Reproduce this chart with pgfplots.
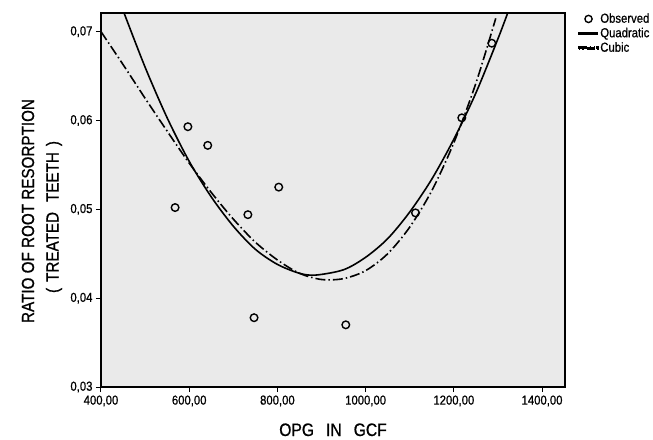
\documentclass[border=0pt]{standalone}
\usepackage{pgfplots}
\pgfplotsset{compat=1.18}
\usepackage{fontspec}
\setmainfont[FakeStretch=0.87, FakeBold=0.8]{Liberation Sans}
\definecolor{bg}{RGB}{234,234,234}
\pgfplotsset{
  obsleg/.style={legend image code/.code={\draw[black, solid, line width=1.4pt] (10pt,0pt) circle (3.6pt);}},
  quadleg/.style={legend image code/.code={\fill[black] (0pt,-0.9pt) rectangle (19pt,0.9pt);}},
  cubleg/.style={legend image code/.code={\fill[black] (0pt,-0.9pt) rectangle (16pt,0.9pt); \fill[black] (18.5pt,-0.9pt) rectangle (20pt,0.9pt);}},
}
\begin{document}
\begin{tikzpicture}
\path[use as bounding box] (-101pt,-52pt) rectangle (552pt,387pt);
\begin{axis}[
  at={(0pt,0pt)}, anchor=south west,
  scale only axis, width=464pt, height=374pt,
  xmin=400, xmax=1452, ymin=0.03, ymax=0.0721,
  axis background/.style={fill=bg},
  axis line style={line width=1.5pt},
  tick style={black, line width=1pt},
  tick align=outside, major tick length=5pt,
  xtick={400,600,800,1000,1200,1400},
  ytick={0.03,0.04,0.05,0.06,0.07},
  xtick pos=bottom, ytick pos=left,
  /pgf/number format/assume math mode=true,
  xticklabel style={/pgf/number format/.cd, fixed, fixed zerofill, precision=2, use comma, 1000 sep={}},
  yticklabel style={/pgf/number format/.cd, fixed, fixed zerofill, precision=2, use comma},
  tick label style={font=\fontsize{13}{13}\selectfont},
  scaled y ticks=false, scaled x ticks=false,
  legend style={at={(1.027,1.004)}, anchor=north west, draw=none, fill=none,
    font=\fontsize{13}{13}\selectfont, inner sep=0pt,
    nodes={text height=9pt, text depth=1.5pt, inner ysep=2pt, inner xsep=1pt}},
  legend cell align=left,
]
\addplot[only marks, mark=o, mark size=3.8pt, mark options={line width=1.4pt, black}, obsleg]
coordinates {(568,0.0502)(597,0.0593)(642,0.0572)(733,0.0494)(747,0.0378)(803,0.0525)(955,0.0370)(1113,0.0496)(1218,0.0603)(1286,0.0687)};
\addlegendentry{Observed}
\addplot[black, line width=1.6pt, smooth, mark=none, quadleg]
coordinates {(450,0.0724)(500,0.0660)(550,0.0603)(600,0.0554)(650,0.0514)(700,0.0481)(750,0.0455)(800,0.0438)(850,0.0428)(887,0.0426)(950,0.0432)(1000,0.0446)(1050,0.0467)(1100,0.0497)(1150,0.0534)(1200,0.0579)(1250,0.0631)(1300,0.0692)(1325,0.0725)};
\addlegendentry{Quadratic}
\addplot[black, line width=1.6pt, smooth, mark=none, dash pattern=on 10pt off 3pt on 1.5pt off 3pt, cubleg]
coordinates {(400,0.0700)(450,0.0663)(500,0.0625)(550,0.0588)(600,0.0552)(650,0.0519)(700,0.0489)(750,0.0463)(800,0.0443)(850,0.0428)(900,0.0421)(950,0.0422)(1000,0.0431)(1050,0.0450)(1100,0.0480)(1150,0.0521)(1200,0.0575)(1250,0.0642)(1295,0.0715)};
\addlegendentry{Cubic}
\end{axis}
\node[rotate=90, font=\fontsize{17.5}{17.5}\selectfont, inner sep=0pt] at (-73pt,176pt) {RATIO OF ROOT RESORPTION};
\node[rotate=90, font=\fontsize{17.5}{17.5}\selectfont, inner sep=0pt] at (-47pt,170pt) {(\hspace{6pt}TREATED\hspace{10pt}TEETH\hspace{6pt})};
\node[font=\fontsize{18}{18}\selectfont, anchor=base, inner sep=0pt] at (232pt,-49pt) {OPG\hspace{12pt}IN\hspace{12pt}GCF};
\end{tikzpicture}
\end{document}
